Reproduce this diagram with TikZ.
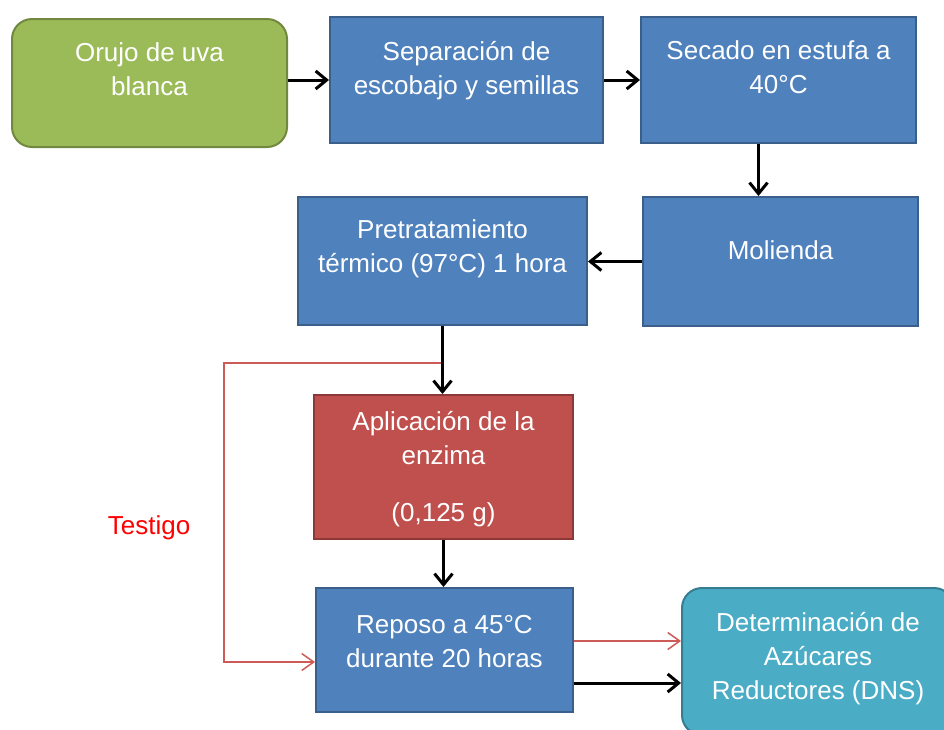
\documentclass[tikz,border=0pt]{standalone}
\usepackage{fontspec}
\setmainfont{Liberation Sans}
\usetikzlibrary{arrows.meta}
\definecolor{bfill}{HTML}{4F81BD}
\definecolor{bdraw}{HTML}{3A5F8B}
\definecolor{gfill}{HTML}{9BBB59}
\definecolor{gdraw}{HTML}{71893F}
\definecolor{rfill}{HTML}{C0504D}
\definecolor{rdraw}{HTML}{8C3836}
\definecolor{tfill}{HTML}{4BACC6}
\definecolor{tdraw}{HTML}{357D91}
\definecolor{redline}{HTML}{CC5B58}
\newcommand\strt{\rule{0pt}{21pt}}
\begin{document}
\begin{tikzpicture}[x=1pt,y=-1pt,
  box/.style={draw=bdraw, fill=bfill, line width=2pt, inner sep=0pt},
  txt/.style={text=white, anchor=north, inner sep=0pt, align=center, font=\fontsize{26}{34}\selectfont},
  flow/.style={line width=3pt, -{Straight Barb[length=11pt,width=18pt]}},
  ctrl/.style={draw=redline, line width=1.5pt, -{Straight Barb[length=12pt,width=17pt]}}
]
\useasboundingbox (0,0) rectangle (944,729);
\clip (0,0) rectangle (944,729);
\fill[white] (0,0) rectangle (944,729);

\node[box, fill=gfill, draw=gdraw, rounded corners=20pt, minimum width=275pt, minimum height=128pt,
  label={[txt,yshift=-22pt]north:{\strt Orujo de uva\\blanca}}] (orujo) at (149.5,83) {};
\node[box, minimum width=273pt, minimum height=126pt,
  label={[txt,yshift=-23pt]north:{\strt Separación de\\escobajo y semillas}}] (sep) at (466.5,80) {};
\node[box, minimum width=275pt, minimum height=126pt,
  label={[txt,yshift=-22pt]north:{\strt Secado en estufa a\\40°C}}] (sec) at (778.5,80) {};
\node[box, minimum width=275pt, minimum height=129pt,
  label={[txt,yshift=-42pt]north:{\strt Molienda}}] (mol) at (780.5,261.5) {};
\node[box, minimum width=289pt, minimum height=128pt,
  label={[txt,yshift=-21pt]north:{\strt Pretratamiento\\térmico (97°C) 1 hora}}] (pre) at (442.5,261) {};
\node[box, fill=rfill, draw=rdraw, minimum width=259pt, minimum height=144pt,
  label={[txt,yshift=-15pt]north:{\strt Aplicación de la\\enzima\\[23pt](0,125 g)}}] (apl) at (443.5,467) {};
\node[box, minimum width=257pt, minimum height=124pt,
  label={[txt,yshift=-25pt]north:{\strt Reposo a 45°C\\durante 20 horas}}] (rep) at (444.5,650) {};
\node[box, fill=tfill, draw=tdraw, rounded corners=20pt, minimum width=272pt, minimum height=147pt,
  label={[txt,yshift=-23pt]north:{\strt Determinación de\\Azúcares\\Reductores (DNS)}}] (det) at (818,661.5) {};

\node[text=red, anchor=base, inner sep=0pt, font=\fontsize{26}{34}\selectfont] (testigo) at (149,534) {Testigo};

\coordinate (tj) at (pre.south |- 0,363);
\coordinate (tl) at (224,363);
\draw[ctrl] (tj) -- (tl) |- ([yshift=-12pt]rep.west);
\draw[ctrl] ([yshift=9pt]rep.east) -- ([yshift=9pt]rep.east -| det.west);

\draw[flow] (sep.west -| orujo.east) -- (sep.west);
\draw[flow] (sep.east) -- (sec.west);
\draw[flow] ([xshift=-20pt]sec.south) -- ([xshift=-20pt]sec.south |- mol.north);
\draw[flow] (mol.west) -- (mol.west -| pre.east);
\draw[flow] (pre.south) -- (pre.south |- apl.north);
\draw[flow] (apl.south) -- (apl.south |- rep.north);
\draw[flow] ([yshift=-33pt]rep.east) -- ([yshift=-33pt]rep.east -| det.west);
\end{tikzpicture}
\end{document}
